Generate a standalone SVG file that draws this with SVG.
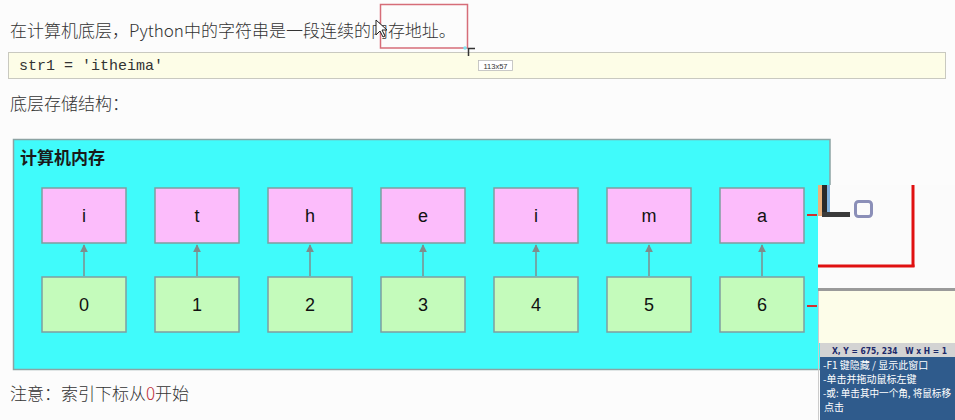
<svg xmlns="http://www.w3.org/2000/svg" width="955" height="420" viewBox="0 0 955 420">
<defs>
<style>
.cjk{font-family:"Noto Sans CJK SC","Noto Sans",sans-serif;fill:#333}
.box{stroke:#7d9ea0;stroke-width:1.5}
.ch{fill:#fcbcfb}
.ix{fill:#c4fbbb}
.lbl{font-family:"Liberation Sans",Arial,sans-serif;font-size:18px;fill:#111;text-anchor:middle}
.conn{stroke:#7f8c8c;stroke-width:1.5;fill:none}
.ov{font-family:"Noto Sans CJK SC","Noto Sans",sans-serif;font-size:10px;fill:#fff}
</style>
<marker id="ah" viewBox="0 0 10 10" refX="9" refY="5" markerWidth="8" markerHeight="8" markerUnits="userSpaceOnUse" orient="auto">
<path d="M0,0 L10,5 L0,10 z" fill="#7f8c8c"/>
</marker>
</defs>
<rect width="955" height="420" fill="#fcfcfc"/>
<!-- header text -->
<text class="cjk" x="10" y="37" font-size="17" font-weight="300">在计算机底层，Python中的字符串是一段连续的内存地址。</text>
<rect x="380.5" y="4.5" width="87" height="43.5" fill="none" stroke="#d66d78" stroke-width="1.5"/>
<path d="M376,20 L376,35 L380,31 L383,37 L385,36 L382,30 L387,30 Z" fill="#fff" stroke="#222" stroke-width="1"/>
<!-- code box -->
<rect x="8.5" y="52.5" width="937" height="26" fill="#fdfde7" stroke="#c9c9c0" stroke-width="1"/>
<text x="19" y="70" font-family="'Liberation Mono','Courier New',monospace" font-size="15" fill="#333">str1 = 'itheima'</text>
<rect x="478.5" y="60.5" width="34" height="10" fill="#fff" stroke="#bbb" stroke-width="0.8"/>
<text x="495.5" y="68.5" font-family="'Liberation Sans',Arial,sans-serif" font-size="7.5" fill="#333" text-anchor="middle">113x57</text>
<path d="M468.5,56 L468.5,48.5 L475,48.5" fill="none" stroke="#333" stroke-width="1.5"/>
<circle cx="465" cy="48" r="1.8" fill="#7fe3f0"/>
<text class="cjk" x="10" y="110" font-size="17" font-weight="300">底层存储结构：</text>
<!-- memory container -->
<g id="memory">
<rect x="13.5" y="139.5" width="816.5" height="230" fill="#40fbfb" stroke="#8ca3a3" stroke-width="1.5"/>
<text x="20" y="164" font-family="'Noto Sans CJK SC','Noto Sans',sans-serif" font-size="17" font-weight="bold" fill="#1a1a1a">计算机内存</text>
</g>
<!-- character nodes -->
<g id="char-0"><rect class="box ch" x="42" y="188" width="84" height="55"/><text class="lbl" x="84" y="222">i</text></g>
<g id="char-1"><rect class="box ch" x="155" y="188" width="84" height="55"/><text class="lbl" x="197" y="222">t</text></g>
<g id="char-2"><rect class="box ch" x="268" y="188" width="84" height="55"/><text class="lbl" x="310" y="222">h</text></g>
<g id="char-3"><rect class="box ch" x="381" y="188" width="84" height="55"/><text class="lbl" x="423" y="222">e</text></g>
<g id="char-4"><rect class="box ch" x="494" y="188" width="84" height="55"/><text class="lbl" x="536" y="222">i</text></g>
<g id="char-5"><rect class="box ch" x="607" y="188" width="84" height="55"/><text class="lbl" x="649" y="222">m</text></g>
<g id="char-6"><rect class="box ch" x="720" y="188" width="84" height="55"/><text class="lbl" x="762" y="222">a</text></g>
<!-- index nodes -->
<g id="idx-0"><rect class="box ix" x="42" y="277" width="84" height="55"/><text class="lbl" x="84" y="311">0</text></g>
<g id="idx-1"><rect class="box ix" x="155" y="277" width="84" height="55"/><text class="lbl" x="197" y="311">1</text></g>
<g id="idx-2"><rect class="box ix" x="268" y="277" width="84" height="55"/><text class="lbl" x="310" y="311">2</text></g>
<g id="idx-3"><rect class="box ix" x="381" y="277" width="84" height="55"/><text class="lbl" x="423" y="311">3</text></g>
<g id="idx-4"><rect class="box ix" x="494" y="277" width="84" height="55"/><text class="lbl" x="536" y="311">4</text></g>
<g id="idx-5"><rect class="box ix" x="607" y="277" width="84" height="55"/><text class="lbl" x="649" y="311">5</text></g>
<g id="idx-6"><rect class="box ix" x="720" y="277" width="84" height="55"/><text class="lbl" x="762" y="311">6</text></g>
<!-- connectors -->
<g id="connectors">
<path class="conn" d="M84,276 L84,245" marker-end="url(#ah)"/>
<path class="conn" d="M197,276 L197,245" marker-end="url(#ah)"/>
<path class="conn" d="M310,276 L310,245" marker-end="url(#ah)"/>
<path class="conn" d="M423,276 L423,245" marker-end="url(#ah)"/>
<path class="conn" d="M536,276 L536,245" marker-end="url(#ah)"/>
<path class="conn" d="M649,276 L649,245" marker-end="url(#ah)"/>
<path class="conn" d="M762,276 L762,245" marker-end="url(#ah)"/>
</g>
<!-- footer -->
<text class="cjk" x="10" y="400" font-size="17" font-weight="300">注意：索引下标从<tspan fill="#c0303a">0</tspan>开始</text>
<!-- screen capture overlay -->
<g id="overlay">
<line x1="807" y1="215" x2="817" y2="215" stroke="#d03030" stroke-width="2"/>
<line x1="807" y1="306" x2="817" y2="306" stroke="#d03030" stroke-width="2"/>
<rect x="818" y="185" width="137" height="104" fill="#fbfbfb"/>
<line x1="913" y1="185" x2="913" y2="267" stroke="#e01010" stroke-width="3"/>
<line x1="818" y1="266" x2="914.5" y2="266" stroke="#e01010" stroke-width="3"/>
<rect x="818" y="185" width="4" height="31" fill="#e9b27c"/>
<rect x="822" y="185" width="5" height="31" fill="#2a2a2a"/>
<rect x="827" y="185" width="3" height="28" fill="#7fb2e0"/>
<rect x="822" y="212" width="28" height="5" fill="#3a3a3a"/>
<rect x="855.5" y="201.5" width="16" height="15" rx="3" fill="none" stroke="#8b8fb8" stroke-width="3"/>
<rect x="818" y="288" width="137" height="3" fill="#9a9a9a"/>
<rect x="818" y="291" width="137" height="52" fill="#fdfde9"/>
<line x1="818.5" y1="291" x2="818.5" y2="420" stroke="#ccc" stroke-width="1"/>
<rect x="820" y="343" width="135" height="14" fill="#d3d3d3"/>
<text x="832" y="354" font-family="'DejaVu Sans','Noto Sans',sans-serif" font-size="9" font-weight="bold" fill="#1c2a6a" textLength="115" lengthAdjust="spacingAndGlyphs" xml:space="preserve">X, Y = 675, 234   W x H = 1</text>
<rect x="820" y="357" width="135" height="63" fill="#2f5b8c"/>
<text class="ov" x="823" y="369">-F1 键隐藏 / 显示此窗口</text>
<text class="ov" x="823" y="383">-单击并拖动鼠标左键</text>
<text class="ov" x="823" y="397" textLength="128" lengthAdjust="spacingAndGlyphs">-或: 单击其中一个角, 将鼠标移</text>
<text class="ov" x="824" y="411">点击</text>
</g>
</svg>
